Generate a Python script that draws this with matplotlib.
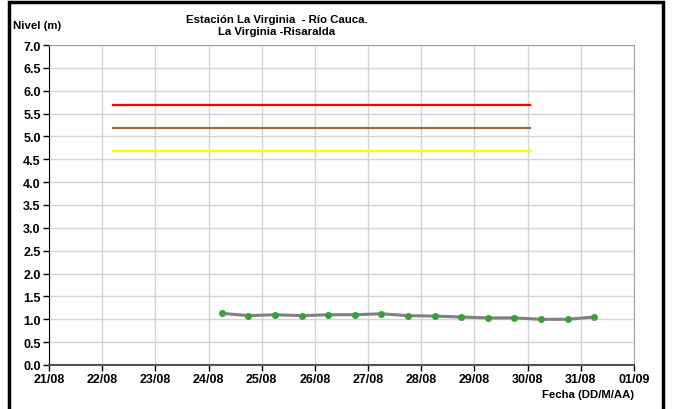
import numpy as np
import matplotlib
matplotlib.use("Agg")
import matplotlib.pyplot as plt
from matplotlib.patches import Rectangle

plt.rcParams['font.family'] = ['Liberation Sans', 'DejaVu Sans']

# days of August (fractional), 01/09 = 32
tick_days = [21, 22, 23, 24, 25, 26, 27, 28, 29, 30, 31, 32]
tick_labels = ["21/08", "22/08", "23/08", "24/08", "25/08", "26/08",
               "27/08", "28/08", "29/08", "30/08", "31/08", "01/09"]

# observed levels, every 12 h
obs_days = [24.25, 24.75, 25.25, 25.75, 26.25, 26.75, 27.25, 27.75,
            28.25, 28.75, 29.25, 29.75, 30.25, 30.75, 31.25]
obs_level = [1.13, 1.08, 1.10, 1.08, 1.10, 1.10, 1.12, 1.08,
             1.07, 1.05, 1.03, 1.03, 1.00, 1.00, 1.05]

# alert thresholds
alert_days = [22.2, 30.05]
alert_red = 5.68
alert_orange = 5.18
alert_yellow = 4.68

fig = plt.figure(figsize=(6.74, 4.10), dpi=100)
ax = fig.add_axes([49 / 674, 44 / 410, 585 / 674, 320 / 410])

ax.plot(alert_days, [alert_red] * 2, color="#ff0000", lw=1.6)
ax.plot(alert_days, [alert_orange] * 2, color="#9e6b3f", lw=1.6)
ax.plot(alert_days, [alert_yellow] * 2, color="#ffff00", lw=1.6)

ax.plot(obs_days, obs_level, color="#808080", lw=2.2, zorder=3)
ax.plot(obs_days, obs_level, "o", color="#33a333", ms=4, zorder=4)

ax.set_xlim(21, 32)
ax.set_ylim(0, 7)
ax.set_xticks(tick_days)
ax.set_xticklabels(tick_labels)
ax.set_yticks(np.arange(0, 7.01, 0.5))
ax.set_yticklabels(["%.1f" % v for v in np.arange(0, 7.01, 0.5)])
ax.grid(True, color="#d4d4d4", lw=1)
ax.set_axisbelow(True)
ax.tick_params(direction="out", length=4, width=1, labelsize=9, pad=2)
for lab in ax.get_xticklabels() + ax.get_yticklabels():
    lab.set_fontweight("bold")
ax.spines["left"].set_color("black")
ax.spines["bottom"].set_color("#555555")
ax.spines["bottom"].set_linewidth(1.5)
ax.spines["top"].set_color("#a0a0a0")
ax.spines["right"].set_color("#a0a0a0")

fig.text(277 / 674, 1 - 20 / 410, "Estación La Virginia  - Río Cauca.", ha="center",
         va="center", fontsize=8.2, fontweight="bold")
fig.text(277 / 674, 1 - 32 / 410, "La Virginia -Risaralda", ha="center",
         va="center", fontsize=8.2, fontweight="bold")
fig.text(13 / 674, 1 - 26 / 410, "Nivel (m)", ha="left", va="center",
         fontsize=8.2, fontweight="bold")
fig.text(634 / 674, 1 - 395 / 410, "Fecha (DD/M/AA)", ha="right", va="center",
         fontsize=8.2, fontweight="bold")

fig.patches.append(Rectangle((8.5 / 674, -0.1), 654 / 674, 1.1 - 3 / 410,
                             transform=fig.transFigure, fill=False,
                             edgecolor="black", lw=2.5))

fig.savefig("out.png", dpi=100)
